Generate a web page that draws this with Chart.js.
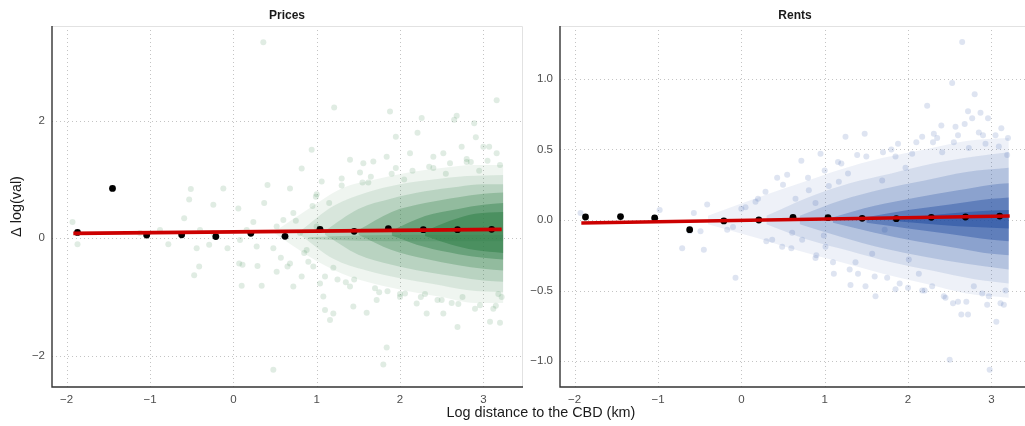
<!DOCTYPE html>
<html><head><meta charset="utf-8">
<script src="https://cdn.jsdelivr.net/npm/chart.js@4.4.1/dist/chart.umd.min.js"></script>
<style>
html,body{margin:0;padding:0;background:#fff;}
#wrap{position:relative;width:1025px;height:426px;overflow:hidden;background:#fff;}
canvas{position:absolute;top:0;}
#c1{left:0;}
#c2{left:508px;}
#xtitle{position:absolute;left:341px;width:400px;top:404px;text-align:center;font:14.4px "Liberation Sans",Arial,sans-serif;line-height:16px;color:#1a1a1a;white-space:nowrap;}
</style></head>
<body><div id="wrap">
<canvas id="c1" width="530" height="426"></canvas>
<canvas id="c2" width="530" height="426"></canvas>
<div id="xtitle">Log distance to the CBD (km)</div>
</div>
<script>
// ---------- tick values and labels ----------
const xTicks = [-2, -1, 0, 1, 2, 3];
const xTickLabels = ['\u22122', '\u22121', '0', '1', '2', '3'];
const priceYTicks = [-2, 0, 2];
const priceYTickLabels = ['\u22122', '0', '2'];
const rentYTicks = [-1, -0.5, 0, 0.5, 1];
const rentYTickLabels = ['\u22121.0', '\u22120.5', '0.0', '0.5', '1.0'];
const panelTitles = ['Prices', 'Rents'];

// ---------- binned means ----------
const binX = [-1.87, -1.45, -1.04, -0.62, -0.21, 0.21, 0.62, 1.04, 1.45, 1.86, 2.28, 2.69, 3.10];
const priceBinY = [0.10, 0.85, 0.056, 0.06, 0.03, 0.085, 0.034, 0.153, 0.119, 0.164, 0.148, 0.148, 0.153];
const rentBinY = [0.021, 0.024, 0.014, -0.069, -0.007, 0.0, 0.019, 0.016, 0.012, 0.009, 0.019, 0.021, 0.028];

// ---------- linear fit endpoints ----------
const fitX = [-1.92, 3.22];
const priceFitY = [0.085, 0.153];
const rentFitY = [-0.021, 0.028];

// ---------- Prices cloud: individual (sparse) observations ----------
const priceCloudX = [-1.93,-1.87,-0.51,-0.53,-0.59,-0.78,-0.44,-0.41,-0.47,-0.12,0.06,-0.07,0.07,0.11,0.10,0.29,0.34,0.36,0.41,0.37,0.48,0.52,0.57,0.65,0.72,0.82,0.94,1.21,1.08,1.10,1.16,1.20,1.88,1.84,1.80,2.26,2.21,1.95,2.68,2.65,2.89,2.91,3.16,3.07,1.60,2.69,2.96,3.20,3.08,2.32,2.52,2.20,2.06,1.40,1.44,1.72,1.40,1.56,1.68,1.84,2.12,2.40,2.52,2.74,3.00,3.16,1.06,0.99,0.68,0.72,0.60,0.52,0.24,0.16,-0.24,-0.40,-0.29,0.08,0.28,0.48,0.68,0.82,0.88,0.96,1.04,0.80,1.00,-0.24,-0.88,-1.12,1.30,1.52,1.75,2.00,2.35,2.62,2.85,3.12,1.25,1.62,1.95,2.45,2.80,3.18,
  1.30,1.45,1.55,1.70,1.90,2.00,2.15,2.25,2.40,2.50,2.60,2.70,2.80,2.90,3.05,3.15,3.20,1.15,1.20,0.95,0.90,1.35,1.65,1.85,2.05,2.30,2.55,2.75,2.95,3.22,0.75,0.85,1.00,1.10];
const priceCloudY = [0.28,-0.10,0.84,0.66,0.34,-0.10,-0.17,-0.48,-0.63,0.85,0.51,-0.17,-0.43,-0.45,-0.81,-0.47,-0.81,3.34,0.91,0.60,-2.24,-0.57,-0.33,-0.48,-0.82,1.19,1.51,2.23,-0.99,-1.22,-1.39,-1.28,2.16,-1.86,-2.15,2.05,1.80,1.73,2.09,2.02,1.96,1.72,2.35,1.56,-1.27,-1.51,-1.14,-1.44,-1.42,-1.28,-1.28,-1.11,-0.94,-0.82,-1.16,-1.05,1.34,1.28,1.31,1.39,1.45,1.39,1.45,1.56,1.56,1.45,0.97,0.71,0.85,0.43,0.31,0.20,0.28,0.14,0.09,0.14,-0.11,-0.03,-0.14,-0.17,-0.43,-0.65,-0.20,-0.48,-0.77,0.09,0.20,0.57,0.14,0.09,1.02,1.12,-0.92,-1.00,1.22,-1.10,1.30,-1.20,-0.70,0.95,1.20,-1.05,1.35,-0.95,
  0.90,-0.70,0.95,-0.85,1.10,-0.95,1.15,-1.00,1.20,-1.05,1.28,-1.12,1.30,-1.20,1.32,-1.15,1.25,0.60,-0.50,0.55,-0.40,-0.75,1.05,-0.90,1.00,-0.95,1.10,-1.00,1.15,-1.00,0.30,-0.25,0.75,-0.65];

// ---------- Prices cloud: density envelopes (outer to inner) ----------
const priceBandX  = [[0.5,0.9,1.3,1.7,2.1,2.5,2.9,3.24],[0.8,1.2,1.6,2.0,2.4,2.8,3.24],[1.1,1.5,1.9,2.3,2.7,3.0,3.24],[1.5,1.9,2.3,2.7,3.0,3.24],[1.9,2.3,2.7,3.0,3.24],[2.3,2.6,2.9,3.24],[0.9,1.5,2.2,3.24]];
const priceBandHi = [[0.12,0.5,0.85,1.0,1.12,1.2,1.25,1.25],[0.12,0.55,0.78,0.92,1.0,1.06,1.08],[0.13,0.5,0.68,0.8,0.88,0.92,0.92],[0.14,0.45,0.6,0.7,0.76,0.78],[0.13,0.38,0.5,0.57,0.6],[0.12,0.3,0.42,0.45],[0.02,0.05,0.06,0.06]];
const priceBandLo = [[0.08,-0.3,-0.6,-0.78,-0.9,-1.0,-1.1,-1.1],[0.06,-0.35,-0.55,-0.68,-0.78,-0.88,-0.92],[0.06,-0.28,-0.45,-0.57,-0.66,-0.72,-0.74],[0.06,-0.2,-0.35,-0.46,-0.52,-0.55],[0.05,-0.15,-0.27,-0.33,-0.36],[0.04,-0.1,-0.2,-0.25],[-0.01,-0.04,-0.05,-0.05]];
const priceBandAlpha = [0.08, 0.12, 0.18, 0.28, 0.40, 0.50, 0.20];

// ---------- Rents cloud: individual (sparse) observations ----------
const rentCloudX = [2.65,2.53,2.80,2.23,2.72,2.77,2.87,2.96,2.57,2.68,3.12,2.40,2.31,1.25,1.48,1.88,1.85,2.17,1.39,0.95,1.16,0.72,0.43,0.29,0.17,0.05,-0.41,-0.57,-0.98,-1.93,-0.71,-0.45,-0.62,-0.49,-0.07,-0.17,0.37,0.49,0.61,0.73,0.89,1.01,1.31,1.37,1.61,1.49,1.75,1.85,2.17,2.29,2.43,2.54,2.64,2.72,2.50,2.98,3.06,3.11,2.89,2.97,2.79,3.17,2.13,2.01,1.72,1.17,1.05,0.81,0.55,1.28,1.69,1.97,2.05,2.41,2.73,2.93,3.09,3.19,2.55,0.65,0.89,1.57,1.11,0.99,
  0.50,0.60,0.80,0.90,1.20,1.30,1.50,1.60,1.80,1.90,2.10,2.20,2.35,2.45,2.60,2.70,2.85,2.95,3.05,3.15,3.20,0.30,0.20,0.00,-0.10,1.00,1.10,1.40,1.70,2.00,2.30,2.60,2.90];
const rentCloudY = [1.26,0.97,0.89,0.81,0.77,0.72,0.76,0.72,0.66,0.68,0.65,0.67,0.61,0.59,0.61,0.54,0.45,0.59,0.46,0.47,0.41,0.42,0.30,0.20,0.13,0.09,0.11,0.05,0.07,0.05,-0.20,-0.21,-0.08,-0.08,-0.41,-0.07,-0.14,-0.19,-0.09,-0.14,-0.27,-0.19,-0.46,-0.30,-0.54,-0.47,-0.41,-0.49,-0.50,-0.47,-0.54,-0.59,-0.67,-0.67,-0.99,-1.06,-0.72,-0.59,-0.52,-0.54,-0.47,-0.50,-0.38,-0.28,-0.07,0.27,0.24,0.21,0.32,0.33,0.28,0.37,0.47,0.48,0.51,0.54,0.52,0.46,0.55,0.15,0.12,-0.24,-0.38,-0.11,
  0.25,-0.20,0.30,-0.25,0.40,-0.35,0.45,-0.40,0.50,-0.45,0.55,-0.50,0.58,-0.55,0.60,-0.58,0.62,-0.60,0.60,-0.60,0.58,-0.15,0.15,0.08,-0.05,0.35,-0.30,-0.38,0.48,-0.48,0.55,-0.58,0.60];

// ---------- Rents cloud: density envelopes (outer to inner) ----------
const rentBandX  = [[-0.4,0.2,0.7,1.2,1.7,2.2,2.7,3.21],[0.3,0.8,1.3,1.8,2.3,2.8,3.21],[0.7,1.2,1.7,2.2,2.7,3.21],[1.1,1.6,2.1,2.6,3.0,3.21],[1.5,2.0,2.5,3.0,3.21],[1.9,2.4,2.8,3.21]];
const rentBandHi = [[0.03,0.16,0.26,0.36,0.44,0.5,0.56,0.58],[0.03,0.16,0.26,0.33,0.4,0.45,0.48],[0.03,0.14,0.22,0.28,0.34,0.37],[0.02,0.1,0.16,0.21,0.25,0.26],[0.02,0.07,0.11,0.15,0.16],[0.01,0.04,0.06,0.07]];
const rentBandLo = [[-0.03,-0.13,-0.22,-0.3,-0.38,-0.45,-0.52,-0.55],[-0.03,-0.14,-0.22,-0.3,-0.36,-0.42,-0.45],[-0.03,-0.12,-0.2,-0.26,-0.31,-0.35],[-0.02,-0.09,-0.15,-0.2,-0.24,-0.25],[-0.02,-0.06,-0.1,-0.14,-0.15],[-0.01,-0.035,-0.05,-0.06]];
const rentBandAlpha = [0.08, 0.12, 0.18, 0.28, 0.40, 0.50];

// ---------- helpers ----------
const FONT = '"Liberation Sans", Arial, sans-serif';
const pts = (xs, ys) => xs.map((x, i) => ({x, y: ys[i]}));

function bandSets(bx, bhi, blo, rgb, alphas) {
  const out = [];
  bx.forEach((xs, k) => {
    const ord = 30 - k;
    out.push({data: pts(xs, bhi[k]), borderWidth: 0, pointRadius: 0, fill: false,
      cubicInterpolationMode: 'monotone', order: ord, borderColor: 'transparent'});
    out.push({data: pts(xs, blo[k]), borderWidth: 0, pointRadius: 0, fill: '-1',
      backgroundColor: `rgba(${rgb},${alphas[k]})`,
      cubicInterpolationMode: 'monotone', order: ord, borderColor: 'transparent'});
  });
  return out;
}

const gridPlugin = {
  id: 'dotgrid',
  beforeDatasetsDraw(chart) {
    const {ctx, chartArea: a, scales: {x, y}} = chart;
    ctx.save();
    ctx.strokeStyle = '#c4c4c4'; ctx.lineWidth = 1; ctx.setLineDash([1, 3]);
    ctx.beginPath();
    x.ticks.forEach(t => { const p = Math.round(x.getPixelForValue(t.value)) + 0.5; ctx.moveTo(p, a.top); ctx.lineTo(p, a.bottom); });
    y.ticks.forEach(t => { const p = Math.round(y.getPixelForValue(t.value)) + 0.5; ctx.moveTo(a.left, p); ctx.lineTo(a.right, p); });
    ctx.stroke();
    ctx.restore();
  }
};

const framePlugin = {
  id: 'frame',
  afterDraw(chart, args, o) {
    const {ctx, chartArea: a} = chart;
    ctx.save();
    ctx.strokeStyle = '#e2e2e2'; ctx.lineWidth = 1;
    ctx.beginPath();
    ctx.moveTo(a.left, a.top + 0.5); ctx.lineTo(a.right + 0.5, a.top + 0.5); ctx.lineTo(a.right + 0.5, a.bottom);
    ctx.stroke();
    ctx.strokeStyle = '#333333'; ctx.lineWidth = 1.4;
    ctx.beginPath();
    ctx.moveTo(a.left, a.top); ctx.lineTo(a.left, a.bottom); ctx.lineTo(a.right + 1, a.bottom);
    ctx.stroke();
    ctx.fillStyle = '#1a1a1a';
    ctx.font = 'bold 12px ' + FONT;
    ctx.textAlign = 'center'; ctx.textBaseline = 'middle';
    ctx.fillText(o.title, (a.left + a.right) / 2, 15.5);
    if (o.ytitle) {
      ctx.save();
      ctx.translate(17.5, (a.top + a.bottom) / 2);
      ctx.rotate(-Math.PI / 2);
      ctx.font = '14.4px ' + FONT;
      ctx.fillText(o.ytitle, 0, 0);
      ctx.restore();
    }
    ctx.restore();
  }
};

function makePanel(id, cfg) {
  const datasets = [
    {data: pts(fitX, cfg.fitY), borderColor: '#cc0000', borderWidth: 3.6, pointRadius: 0, fill: false, order: 0},
    {data: pts(binX, cfg.binY), showLine: false, pointRadius: 3.4, backgroundColor: '#000', borderWidth: 0, order: 1},
    {data: pts(cfg.cloudX, cfg.cloudY), showLine: false, pointRadius: 3, backgroundColor: `rgba(${cfg.rgb},0.15)`, borderWidth: 0, order: 2},
    ...bandSets(cfg.bandX, cfg.bandHi, cfg.bandLo, cfg.rgb, cfg.alphas)
  ];
  return new Chart(document.getElementById(id), {
    type: 'line',
    data: {datasets},
    plugins: [gridPlugin, framePlugin],
    options: {
      responsive: false, animation: false, events: [],
      layout: {padding: {top: 26, right: 8, left: 0, bottom: 0}},
      plugins: {legend: {display: false}, tooltip: {enabled: false}, frame: {title: cfg.title, ytitle: cfg.ytitle}},
      scales: {
        x: {
          type: 'linear', min: -2.176, max: 3.464,
          afterBuildTicks: s => { s.ticks = xTicks.map(v => ({value: v})); },
          afterFit: s => { s.height = 39; },
          grid: {display: false, drawTicks: false},
          border: {display: false},
          ticks: {padding: 6, color: '#4d4d4d', font: {family: FONT, size: 11.5}, maxRotation: 0,
            callback: (v, i) => xTickLabels[i]}
        },
        y: {
          type: 'linear', min: cfg.ymin, max: cfg.ymax,
          afterBuildTicks: s => { s.ticks = cfg.yTicks.map(v => ({value: v})); },
          afterFit: s => { s.width = 52; },
          grid: {display: false, drawTicks: false},
          border: {display: false},
          ticks: {padding: 7, color: '#4d4d4d', font: {family: FONT, size: 11.5},
            callback: (v, i) => cfg.yTickLabels[i]}
        }
      }
    }
  });
}

makePanel('c1', {
  title: panelTitles[0], ytitle: '\u0394 log(val)',
  binY: priceBinY, fitY: priceFitY, cloudX: priceCloudX, cloudY: priceCloudY,
  bandX: priceBandX, bandHi: priceBandHi, bandLo: priceBandLo,
  rgb: '46,125,70', alphas: priceBandAlpha,
  ymin: -2.533, ymax: 3.617, yTicks: priceYTicks, yTickLabels: priceYTickLabels
});
makePanel('c2', {
  title: panelTitles[1], ytitle: null,
  binY: rentBinY, fitY: rentFitY, cloudX: rentCloudX, cloudY: rentCloudY,
  bandX: rentBandX, bandHi: rentBandHi, bandLo: rentBandLo,
  rgb: '32,76,160', alphas: rentBandAlpha,
  ymin: -1.183, ymax: 1.374, yTicks: rentYTicks, yTickLabels: rentYTickLabels
});
</script>
</body></html>
